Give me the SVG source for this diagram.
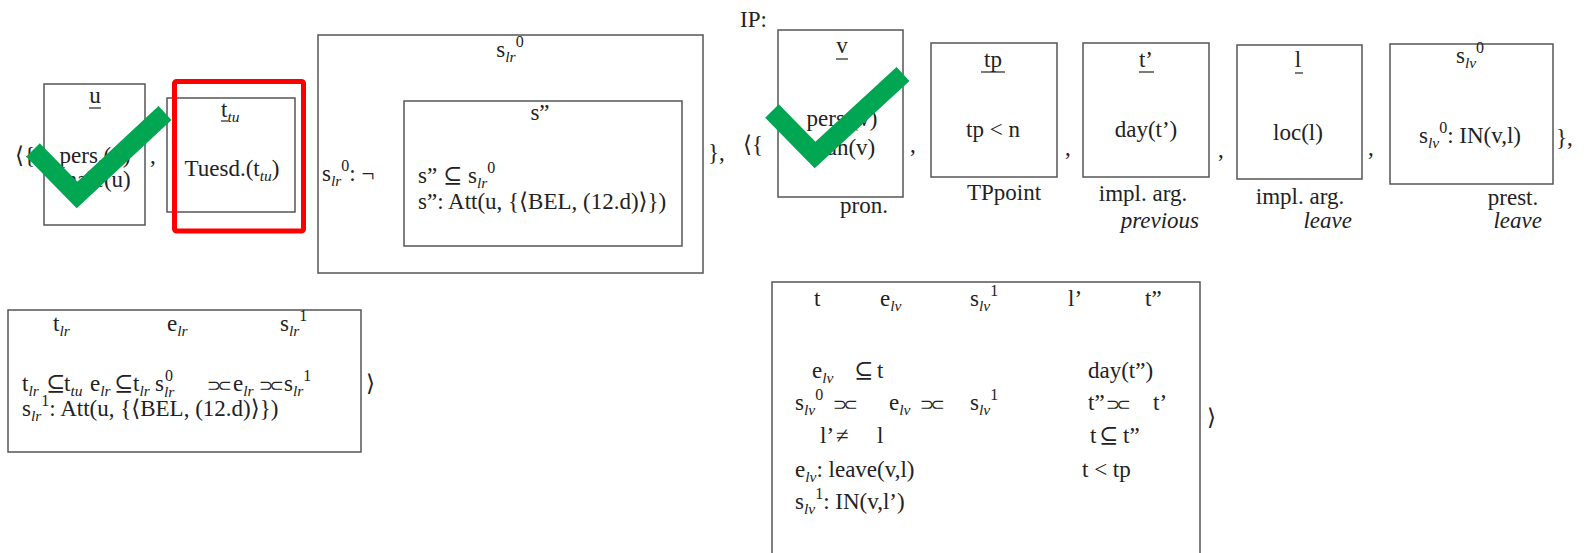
<svg xmlns="http://www.w3.org/2000/svg" width="1587" height="553" viewBox="0 0 1587 553">
<style>
text{font-family:"Liberation Serif","Times New Roman","DejaVu Serif",serif;font-size:23px;fill:#222}
.m{text-anchor:middle}
.e{text-anchor:end}
.i{font-style:italic}
.sb{font-size:15.5px;font-style:italic}
.sp{font-size:16px}
.ab{font-family:"DejaVu Sans",sans-serif;font-size:17px;letter-spacing:-3.8px}
.box{fill:none;stroke:#555;stroke-width:1.5}
.ul{stroke:#222;stroke-width:1.2}
.chk{fill:none;stroke:#00a651;stroke-width:19;stroke-linejoin:miter;stroke-linecap:butt}
.red{fill:none;stroke:#ff0000;stroke-width:5}
</style>
<rect width="1587" height="553" fill="#fff"/>
<g id="connectors"/>

<text x="15" y="163">⟨{</text>
<g id="node-u">
<rect class="box" x="44" y="84" width="101" height="141"/>
<text class="m" x="95" y="103">u</text>
<line class="ul" x1="89" y1="108" x2="101" y2="108"/>
<text class="m" x="95" y="163">pers.(u)</text>
<text class="m" x="95" y="187">male(u)</text>
</g>
<text x="150" y="163">,</text>
<g id="node-ttu">
<rect class="box" x="167" y="98" width="128" height="114"/>
<text x="221" y="117">t<tspan class="sb" dy="5">tu</tspan></text>
<line class="ul" x1="221" y1="121" x2="228" y2="121"/>
<text class="m" x="232" y="176">Tuesd.(t<tspan class="sb" dy="5">tu</tspan><tspan dy="-5">)</tspan></text>
</g>

<g id="node-slr0">
<rect class="box" x="318" y="35" width="385" height="238"/>
<text class="m" x="510" y="57">s<tspan class="sb" dy="5">lr</tspan><tspan class="sp" dy="-15">0</tspan></text>
<text x="322" y="181">s<tspan class="sb" dy="5">lr</tspan><tspan class="sp" dy="-15">0</tspan><tspan dy="10">: ¬</tspan></text>
<g id="node-s2">
<rect class="box" x="404" y="101" width="278" height="145"/>
<text class="m" x="540" y="120">s”</text>
<text x="418" y="183">s” ⊆ s<tspan class="sb" dy="5">lr</tspan><tspan class="sp" dy="-15">0</tspan></text>
<text x="418" y="209">s”: Att(u, {⟨BEL, (12.d)⟩})</text>
</g>
</g>
<text x="708" y="160">},</text>

<text x="740" y="27">IP:</text>
<text x="743" y="152">⟨{</text>
<g id="node-v">
<rect class="box" x="778" y="30" width="125" height="167"/>
<text class="m" x="842" y="53">v</text>
<line class="ul" x1="836" y1="59" x2="848" y2="59"/>
<text class="m" x="842" y="126">pers.(v)</text>
<text class="m" x="842" y="155">man(v)</text>
<text x="840" y="213">pron.</text>
</g>
<text x="910" y="152">,</text>
<g id="node-tp">
<rect class="box" x="931" y="43" width="126" height="134"/>
<text class="m" x="993" y="67">tp</text>
<line class="ul" x1="981" y1="72" x2="1005" y2="72"/>
<text class="m" x="993" y="137">tp &lt; n</text>
<text class="m" x="1004" y="200">TPpoint</text>
</g>
<text x="1065" y="155">,</text>
<g id="node-tprime">
<rect class="box" x="1083" y="43" width="126" height="134"/>
<text class="m" x="1146" y="67">t’</text>
<line class="ul" x1="1139" y1="72" x2="1154" y2="72"/>
<text class="m" x="1146" y="137">day(t’)</text>
<text class="m" x="1143" y="201">impl. arg.</text>
<text class="i e" x="1199" y="228">previous</text>
</g>
<text x="1218" y="157">,</text>
<g id="node-l">
<rect class="box" x="1237" y="45" width="125" height="134"/>
<text class="m" x="1298" y="67">l</text>
<line class="ul" x1="1295" y1="73" x2="1303" y2="73"/>
<text class="m" x="1298" y="140">loc(l)</text>
<text class="m" x="1300" y="204">impl. arg.</text>
<text class="i e" x="1352" y="228">leave</text>
</g>
<text x="1368" y="155">,</text>
<g id="node-slv0">
<rect class="box" x="1390" y="44" width="163" height="140"/>
<text class="m" x="1470" y="63">s<tspan class="sb" dy="5">lv</tspan><tspan class="sp" dy="-15">0</tspan></text>
<text class="m" x="1470" y="143">s<tspan class="sb" dy="5">lv</tspan><tspan class="sp" dy="-15">0</tspan><tspan dy="10">: IN(v,l)</tspan></text>
<text class="m" x="1513" y="205">prest.</text>
<text class="i e" x="1542" y="228">leave</text>
</g>
<text x="1556" y="145">},</text>

<g id="node-lr">
<rect class="box" x="8" y="310" width="353" height="142"/>
<text x="53" y="331">t<tspan class="sb" dy="5">lr</tspan></text>
<text x="167" y="331">e<tspan class="sb" dy="5">lr</tspan></text>
<text x="280" y="331">s<tspan class="sb" dy="5">lr</tspan><tspan class="sp" dy="-15">1</tspan></text>
<text y="391"><tspan x="22" y="391">t</tspan><tspan class="sb" y="396">lr</tspan><tspan x="46" y="391">⊆</tspan><tspan x="64" y="391">t</tspan><tspan class="sb" y="396">tu</tspan><tspan x="90" y="391">e</tspan><tspan class="sb" y="396">lr</tspan><tspan x="114" y="391">⊆</tspan><tspan x="133" y="391">t</tspan><tspan class="sb" y="396">lr</tspan><tspan x="155" y="391">s</tspan><tspan class="sp" x="165" y="381">0</tspan><tspan class="sb" x="164" y="397">lr</tspan><tspan class="ab" x="207" y="391">⊃⊂</tspan><tspan x="233" y="391">e</tspan><tspan class="sb" y="396">lr</tspan><tspan class="ab" x="259" y="391">⊃⊂</tspan><tspan x="284" y="391">s</tspan><tspan class="sb" y="396">lr</tspan><tspan class="sp" y="381">1</tspan></text>
<text x="22" y="416">s<tspan class="sb" dy="5">lr</tspan><tspan class="sp" dy="-15">1</tspan><tspan dy="10">: Att(u, {⟨BEL, (12.d)⟩})</tspan></text>
</g>
<text x="366" y="391">⟩</text>

<g id="node-lv">
<rect class="box" x="772" y="282" width="428" height="290"/>
<text x="814" y="306">t</text>
<text x="880" y="306">e<tspan class="sb" dy="5">lv</tspan></text>
<text x="970" y="306">s<tspan class="sb" dy="5">lv</tspan><tspan class="sp" dy="-15">1</tspan></text>
<text x="1068" y="306">l’</text>
<text x="1145" y="306">t”</text>
<text y="378"><tspan x="812" y="378">e</tspan><tspan class="sb" y="383">lv</tspan><tspan x="854" y="378">⊆</tspan><tspan x="877" y="378">t</tspan></text>
<text y="410"><tspan x="795" y="410">s</tspan><tspan class="sb" y="415">lv</tspan><tspan class="sp" y="400">0</tspan><tspan class="ab" x="833" y="410">⊃⊂</tspan><tspan x="889" y="410">e</tspan><tspan class="sb" y="415">lv</tspan><tspan class="ab" x="920" y="410">⊃⊂</tspan><tspan x="970" y="410">s</tspan><tspan class="sb" y="415">lv</tspan><tspan class="sp" y="400">1</tspan></text>
<text y="443"><tspan x="820" y="443">l’</tspan><tspan x="836" y="443">≠</tspan><tspan x="877" y="443">l</tspan></text>
<text x="795" y="477">e<tspan class="sb" dy="5">lv</tspan><tspan dy="-5">: leave(v,l)</tspan></text>
<text x="795" y="509">s<tspan class="sb" dy="5">lv</tspan><tspan class="sp" dy="-15">1</tspan><tspan dy="10">: IN(v,l’)</tspan></text>
<text x="1088" y="378">day(t”)</text>
<text y="410"><tspan x="1088" y="410">t”</tspan><tspan class="ab" x="1106" y="410">⊃⊂</tspan><tspan x="1153" y="410">t’</tspan></text>
<text y="443"><tspan x="1090" y="443">t</tspan><tspan x="1099" y="443">⊆</tspan><tspan x="1123" y="443">t”</tspan></text>
<text x="1082" y="477">t &lt; tp</text>
</g>
<text x="1207" y="425">⟩</text>

<g id="annotations">
<rect class="red" x="174.5" y="81.5" width="129" height="149.5" rx="2"/>
<polyline class="chk" points="33,150 77,195 165,113"/>
<polyline class="chk" points="772,111 815,155 903,74"/>
</g>
</svg>
